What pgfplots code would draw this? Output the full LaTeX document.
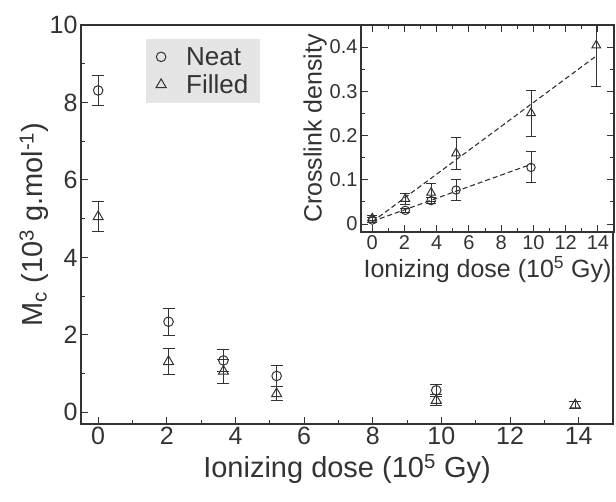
\documentclass[border=0pt]{standalone}
\usepackage{fontspec}
\setmainfont{Liberation Sans}
\usepackage{pgfplots}
\usepackage{pgfplotstable}
\pgfplotsset{compat=1.18}

% main plot: M_c vs dose (x, y, error)
\pgfplotstableread{
x     y     e
0     8.31  0.39
2.05  2.34  0.35
3.65  1.34  0.29
5.2   0.94  0.26
9.85  0.57  0.15
}\neatmain
\pgfplotstableread{
x     y     e
0     5.05  0.39
2.05  1.31  0.33
3.65  1.06  0.31
5.2   0.48  0.18
9.85  0.31  0.14
13.9  0.19  0.10
}\filledmain
% inset: crosslink density
\pgfplotstableread{
x     y      e
0     0.009  0.005
2.05  0.031  0.005
3.65  0.053  0.007
5.2   0.077  0.023
9.85  0.128  0.035
}\neatins
\pgfplotstableread{
x     y      e
0     0.013  0.006
2.05  0.057  0.012
3.65  0.071  0.020
5.2   0.160  0.036
9.85  0.251  0.052
13.9  0.404  0.093
}\filledins

\definecolor{ink}{HTML}{333333}

\pgfplotsset{
  myaxis/.style={
    scale only axis,
    axis line style={ink, line width=1.2pt},
    every tick/.style={ink, line width=1pt},
    tick align=inside,
    major tick length=7pt,
    minor tick length=4pt,
    /pgf/number format/assume math mode=true,
    ticklabel style={font=\fontsize{25}{25}\selectfont, text=ink},
    label style={text=ink},
  },
  errstyle/.style={
    error bars/.cd, y dir=both, y explicit,
    error bar style={ink, line width=1pt},
    error mark options={rotate=90, mark size=6pt, ink, line width=1pt},
  },
}

\begin{document}
\begin{tikzpicture}
\begin{axis}[
  myaxis,
  at={(0,0)}, anchor=south west,
  width=532pt, height=399pt,
  xmin=-0.5, xmax=15, ymin=-0.3, ymax=10,
  xtick={0,2,...,14}, ytick={0,2,...,10},
  minor x tick num=1, minor y tick num=1,
  xtick pos=bottom, ytick pos=left,
  xlabel={Ionizing dose (10\textsuperscript{5} Gy)},
  ylabel={M\textsubscript{c} (10\textsuperscript{3} g.mol\textsuperscript{-1})},
  label style={font=\fontsize{29}{34}\selectfont},
  xlabel style={yshift=-2pt},
  ylabel style={yshift=-6pt},
  legend cell align=left,
  legend style={at={(0.122,0.965)}, anchor=north west, fill=black!10,
    draw=none, font=\fontsize{26}{30}\selectfont, text=ink,
    inner xsep=10pt, inner ysep=6pt, row sep=4pt},
]
\addplot[only marks, mark=o, mark size=4.8pt, ink, line width=1pt, errstyle]
  table[x=x, y=y, y error=e] {\neatmain};
\addlegendentry{\hspace{18pt}Neat}
\addplot[only marks, mark=triangle, mark size=5.8pt, ink, line width=1pt, errstyle]
  table[x=x, y=y, y error=e] {\filledmain};
\addlegendentry{\hspace{18pt}Filled}
\end{axis}

\begin{axis}[
  myaxis,
  at={(280pt,192pt)}, anchor=south west,
  width=253pt, height=207pt,
  axis background/.style={fill=white},
  xmin=-0.7, xmax=15, ymin=-0.018, ymax=0.45,
  xtick={0,2,...,14}, ytick={0,0.1,...,0.4},
  minor x tick num=1, minor y tick num=1,
  ticklabel style={font=\fontsize{20}{20}\selectfont},
  yticklabel style={/pgf/number format/fixed},
  xlabel={Ionizing dose (10\textsuperscript{5} Gy)},
  ylabel={Crosslink density},
  label style={font=\fontsize{25}{30}\selectfont},
  xlabel style={yshift=0pt},
  ylabel style={yshift=-4pt},
]
\addplot[ink, line width=1.1pt, dash pattern=on 5pt off 3pt] coordinates {(0,0.005) (13.9,0.38)};
\addplot[ink, line width=1.1pt, dash pattern=on 5pt off 3pt] coordinates {(0,0.006) (9.85,0.135)};
\addplot[only marks, mark=o, mark size=4.2pt, ink, line width=1pt, errstyle,
  error mark options={rotate=90, mark size=5pt, ink, line width=1pt}]
  table[x=x, y=y, y error=e] {\neatins};
\addplot[only marks, mark=triangle, mark size=5pt, ink, line width=1pt, errstyle,
  error mark options={rotate=90, mark size=5pt, ink, line width=1pt}]
  table[x=x, y=y, y error=e] {\filledins};
\end{axis}
\pgfresetboundingbox
\path (-81pt,-78pt) rectangle (535pt,424pt);
\end{tikzpicture}
\end{document}
